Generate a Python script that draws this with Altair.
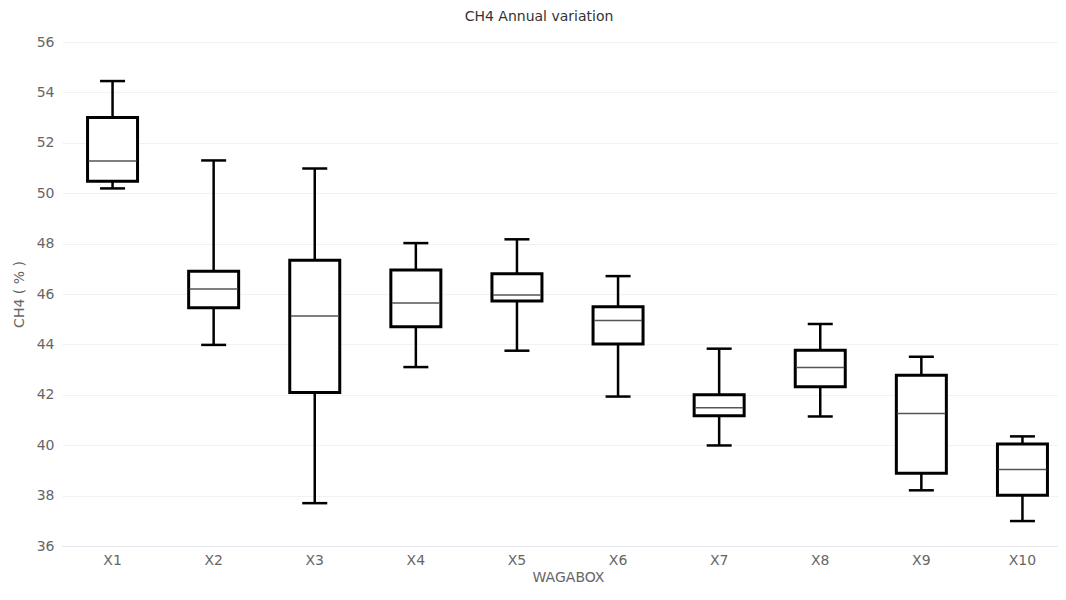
import altair as alt
import pandas as pd

boxes = ["X1", "X2", "X3", "X4", "X5", "X6", "X7", "X8", "X9", "X10"]
lower = [50.19, 43.98, 37.70, 43.10, 43.75, 41.93, 39.99, 41.14, 38.21, 36.99]
q1 = [50.47, 45.45, 42.09, 44.70, 45.72, 44.02, 41.17, 42.32, 38.89, 38.01]
median = [51.28, 46.20, 45.13, 45.64, 45.96, 44.95, 41.49, 43.08, 41.26, 39.04]
q3 = [53.00, 46.90, 47.34, 46.95, 46.80, 45.49, 42.00, 43.77, 42.78, 40.05]
upper = [54.45, 51.30, 50.98, 48.02, 48.17, 46.71, 43.83, 44.81, 43.51, 40.35]

df = pd.DataFrame({"box": boxes, "lower": lower, "q1": q1, "median": median,
                   "q3": q3, "upper": upper})

font = "DejaVu Sans"
xenc = alt.X("box:N", sort=boxes, title="WAGABOX",
             scale=alt.Scale(paddingInner=0, paddingOuter=0, range=[0, 1011]),
             axis=alt.Axis(labelAngle=0, ticks=False, grid=False, labelPadding=7,
                           domainColor="#e6e6ee", labelColor="#666", titleColor="#666",
                           labelFontSize=14, titleFontSize=14, titleFontWeight="normal",
                           labelFont=font, titleFont=font, titlePadding=3, titleX=506))
yscale = alt.Scale(domain=[36, 56], nice=False, zero=False)
yaxis = alt.Axis(values=list(range(36, 57, 2)), ticks=False, domain=False,
                 gridColor="#f2f2f2", labelColor="#666", titleColor="#666",
                 labelFontSize=14, titleFontSize=14, titleFontWeight="normal",
                 labelFont=font, titleFont=font, labelPadding=8, titlePadding=10)

base = alt.Chart(df).encode(x=xenc)

whisker = base.mark_rule(color="black", strokeWidth=2.5).encode(
    y=alt.Y("lower:Q", scale=yscale, axis=yaxis, title="CH4 ( % )"),
    y2="upper:Q")
box = base.mark_bar(size=50, fill="white", stroke="black", strokeWidth=3).encode(
    y="q1:Q", y2="q3:Q")
med = base.mark_tick(size=48, thickness=1.5, color="#555", opacity=1).encode(y="median:Q")
cap_lo = base.mark_tick(size=25, thickness=2.5, color="black", opacity=1).encode(y="lower:Q")
cap_hi = base.mark_tick(size=25, thickness=2.5, color="black", opacity=1).encode(y="upper:Q")

chart = alt.layer(whisker, box, med, cap_lo, cap_hi).properties(
    width=996, height=504,
    title=alt.TitleParams("CH4 Annual variation", fontSize=14, fontWeight="normal",
                          color="#333", font=font, anchor="middle", dx=-21, offset=11),
    autosize=alt.AutoSizeParams(type="none"),
    padding={"left": 54, "top": 34, "right": 0, "bottom": 42},
).configure_view(stroke=None)

chart.save("out.html", embed_options={"renderer": "svg", "actions": False})
